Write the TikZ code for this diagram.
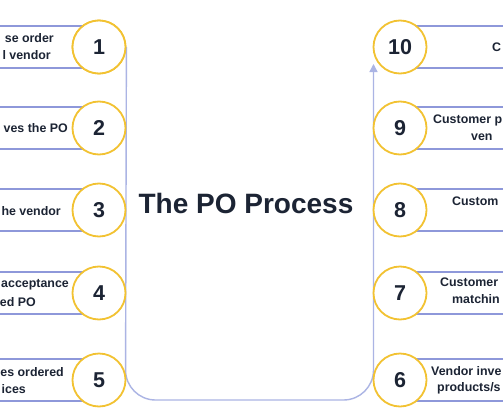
\documentclass[tikz,border=0pt]{standalone}
\usepackage{fontspec}
\setmainfont{Liberation Sans}
\usetikzlibrary{arrows.meta}
\definecolor{boxline}{HTML}{8E98DA}
\definecolor{connline}{HTML}{ABB4E4}
\definecolor{ringgold}{HTML}{F2C232}
\definecolor{inktext}{HTML}{1C2434}
\tikzset{
  numring/.style={circle, draw=ringgold, line width=1.8pt, fill=white, minimum size=53pt, inner sep=0pt, font=\fontsize{21.5}{21.5}\selectfont\bfseries, text=inktext},
  stepframe/.style={draw=boxline, line width=1.6pt, fill=white},
  lbl/.style={font=\fontsize{12.4}{13}\selectfont\bfseries, text=inktext, inner sep=0pt},
  conn/.style={draw=connline, line width=1.4pt, rounded corners=30pt},
}
\begin{document}
\begin{tikzpicture}[x=1pt,y=-1pt]
\clip (0,0) rectangle (503,420);
\fill[white] (0,0) rectangle (503,420);
% left boxes
\foreach \yy in {47,128,210,293,380}{
  \draw[stepframe] (-5,\yy-21) rectangle (99,\yy+21);
}
% right boxes
\foreach \yy in {47,128,210,293,380}{
  \draw[stepframe] (400,\yy-21) rectangle (510,\yy+21);
}
% connector
\coordinate (bl) at (125.5,400);
\coordinate (br) at (373.5,400);
\coordinate (tip) at (373.5,64);
\node[numring] (c1) at (99,47) {1};
\node[numring] (c10) at (400,47) {10};
\draw[conn, -{Triangle[width=8pt,length=8pt]}] (c1.east) -- (bl) -- (br) -- (tip);
\node[numring] (c1b) at (99,47) {1};
% left circles
\node[numring] (c2) at (99,128) {2};
\node[numring] (c3) at (99,210) {3};
\node[numring] (c4) at (99,293) {4};
\node[numring] (c5) at (99,380) {5};
% right circles
\node[numring] (c9) at (400,128) {9};
\node[numring] (c8) at (400,210) {8};
\node[numring] (c7) at (400,293) {7};
\node[numring] (c6) at (400,380) {6};
% title
\node[font=\fontsize{28}{28}\selectfont\bfseries, text=inktext] (title) at (246,203) {The PO Process};
% left texts
\node[lbl, anchor=east] (t1a) at (54,38) {se order};
\node[lbl, anchor=east] (t1b) at (51,55) {l vendor};
\node[lbl, anchor=east] (t2) at (68,128) {ves the PO};
\node[lbl, anchor=east] (t3) at (61,211) {he vendor};
\node[lbl, anchor=east] (t4a) at (69,285) {acceptance};
\node[lbl, anchor=east] (t4b) at (36,302) {ed PO};
\node[lbl, anchor=east] (t5a) at (64,372) {es ordered};
\node[lbl, anchor=east] (t5b) at (26,389) {ices};
% right texts
\node[lbl, anchor=west] (t10) at (492,47) {C};
\node[lbl, anchor=west] (t9a) at (433,120) {Customer p};
\node[lbl, anchor=west] (t9b) at (471,137) {ven};
\node[lbl, anchor=west] (t8) at (452,201) {Custom};
\node[lbl, anchor=west] (t7a) at (440,282) {Customer};
\node[lbl, anchor=west] (t7b) at (452,299) {matchin};
\node[lbl, anchor=west] (t6a) at (431,371) {Vendor inve};
\node[lbl, anchor=west] (t6b) at (437,388) {products/s};
\end{tikzpicture}
\end{document}
